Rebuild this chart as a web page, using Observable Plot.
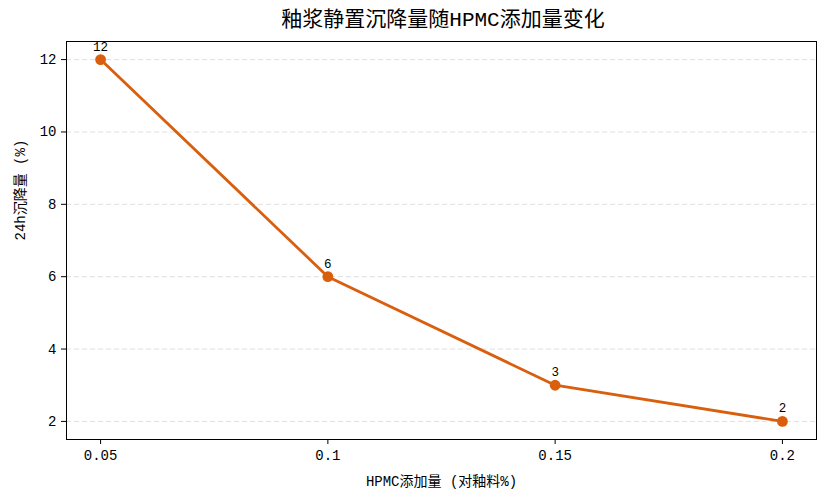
<!DOCTYPE html>
<html><head><meta charset="utf-8">
<script src="https://cdn.jsdelivr.net/npm/d3@7"></script>
<script src="https://cdn.jsdelivr.net/npm/@observablehq/plot@0.6"></script>
<style>
body{margin:0;background:#fff;font-family:"Liberation Mono","Noto Sans CJK SC",sans-serif;}
#wrap{width:828px;height:504px;position:relative;}
#title{position:absolute;left:0;top:7px;width:828px;padding-left:58px;box-sizing:border-box;text-align:center;font-size:21px;color:#000;line-height:28px;z-index:2;font-weight:normal;}
#chart{position:absolute;left:0;top:0;z-index:1;}
#chart svg text{font-family:"Liberation Mono","Noto Sans CJK SC",sans-serif;}
</style></head>
<body><div id="wrap"><div id="title">釉浆静置沉降量随HPMC添加量变化</div><div id="chart"></div></div>
<script>
const hpmc = [0.05, 0.1, 0.15, 0.2];
const settling = [12, 6, 3, 2];
const xTicks = [0.05, 0.1, 0.15, 0.2];
const xTickLabels = ["0.05", "0.1", "0.15", "0.2"];
const yTicks = [2, 4, 6, 8, 10, 12];
const color = "#d95f0e";

const data = hpmc.map((x, i) => ({x, y: settling[i]}));

const chart = Plot.plot({
  width: 828, height: 504,
  marginLeft: 66, marginRight: 12, marginTop: 41, marginBottom: 65,
  style: {fontFamily: '"Liberation Mono","Noto Sans CJK SC", sans-serif', fontSize: "14px", color: "#000", background: "transparent"},
  x: {domain: [0.0425, 0.2075], ticks: xTicks, label: null, tickSize: 5},
  y: {domain: [1.5, 12.5], ticks: yTicks, label: null, tickSize: 5},
  marks: [
    Plot.gridY(yTicks, {stroke: "#cccccc", strokeOpacity: 0.8, strokeDasharray: "5,3", strokeWidth: 0.8}),
    Plot.axisX({ticks: xTicks, tickFormat: d => xTickLabels[xTicks.indexOf(d)], tickSize: 5, tickPadding: 6, fontSize: 14, label: null}),
    Plot.axisY({ticks: yTicks, tickSize: 5, tickPadding: 5, fontSize: 14, label: null}),
    Plot.frame({stroke: "#000", strokeWidth: 1}),
    Plot.line(data, {x: "x", y: "y", stroke: color, strokeWidth: 2.8}),
    Plot.dot(data, {x: "x", y: "y", fill: color, r: 5.4, stroke: null}),
    Plot.text(data, {x: "x", y: "y", text: d => String(d.y), dy: -13, fontSize: 12.5, fill: "#000"}),
    Plot.text(["HPMC添加量 (对釉料%)"], {frameAnchor: "bottom", dy: 46, fontSize: 14, fill: "#000"}),
    Plot.text(["24h沉降量 (%)"], {frameAnchor: "left", dx: -46, rotate: -90, fontSize: 14, fill: "#000"})
  ]
});
document.getElementById("chart").appendChild(chart);
</script></body></html>
